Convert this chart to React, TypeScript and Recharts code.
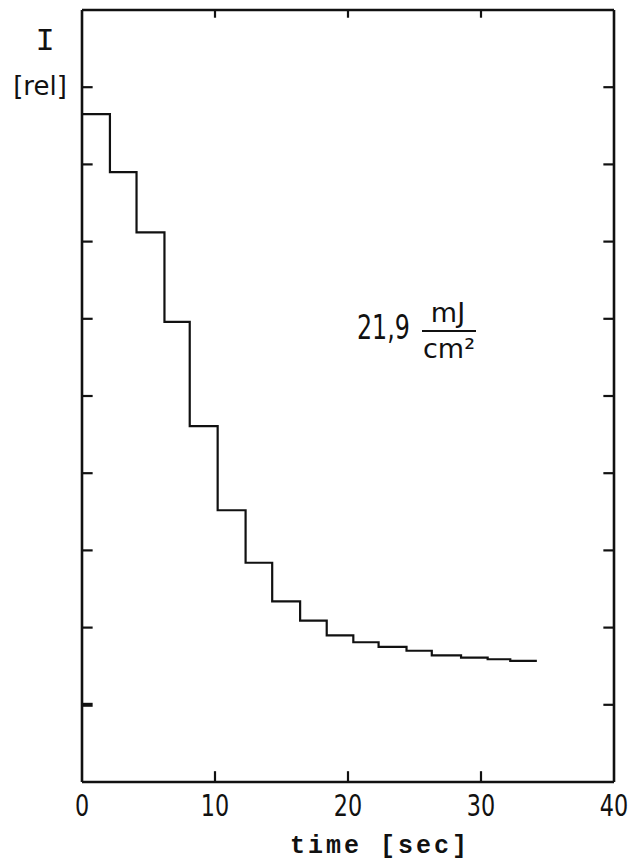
import React from "react";
import { LineChart, Line, XAxis, YAxis, ReferenceLine } from "recharts";

// step start times [sec] and relative intensity level of each step
const stepTimes = [0, 2.1, 4.1, 6.2, 8.1, 10.2, 12.3, 14.3, 16.4, 18.4, 20.4, 22.3, 24.4, 26.3, 28.5, 30.5, 32.2, 34.2];
const intensity = [8.65, 7.9, 7.12, 5.96, 4.61, 3.52, 2.84, 2.34, 2.09, 1.9, 1.81, 1.75, 1.7, 1.64, 1.61, 1.59, 1.57, 1.57];
const xTicks = [0, 10, 20, 30, 40];
const yTicks = [1, 2, 3, 4, 5, 6, 7, 8, 9];

const data = stepTimes.map((t, i) => ({ t, v: intensity[i] }));

const sans = '"DejaVu Sans", sans-serif';
const ink = "#111";
const axisStroke = { stroke: ink, strokeWidth: 2.6 };

// inward tick lengths, in axis units (x: 40 units ~ 532px, y: 10 units ~ 772px)
const xTickLen = 0.8;
const yTickLenBottom = 0.14;
const yTickLenTop = 0.1;

const BottomLabel = (props: any) => {
  const { x, y, payload } = props;
  return (
    <text
      transform={`translate(${x},${y + 34}) scale(0.72,1)`}
      textAnchor="middle"
      fontSize={31}
      fontFamily={sans}
      fill={ink}
    >
      {payload.value}
    </text>
  );
};

export default function App() {
  return (
    <div style={{ position: "absolute", left: 0, top: 0, width: 630, height: 861, background: "#fff" }}>
      <LineChart
        width={630}
        height={861}
        data={data}
        margin={{ top: 9, right: 15, bottom: 48, left: 81 }}
      >
        <XAxis
          xAxisId="bot"
          dataKey="t"
          type="number"
          domain={[0, 40]}
          ticks={xTicks}
          interval={0}
          height={31}
          axisLine={axisStroke}
          tickLine={false}
          tickSize={0}
          tickMargin={0}
          tick={<BottomLabel />}
        />
        <XAxis
          xAxisId="top"
          orientation="top"
          dataKey="t"
          type="number"
          domain={[0, 40]}
          height={1}
          axisLine={axisStroke}
          tickLine={false}
          tick={false}
        />
        <YAxis
          yAxisId="left"
          type="number"
          domain={[0, 10]}
          width={1}
          axisLine={axisStroke}
          tickLine={false}
          tick={false}
        />
        <YAxis
          yAxisId="right"
          orientation="right"
          type="number"
          domain={[0, 10]}
          width={1}
          axisLine={axisStroke}
          tickLine={false}
          tick={false}
        />
        {xTicks.slice(1, -1).map((t) => (
          <ReferenceLine
            key={`b${t}`}
            xAxisId="bot"
            yAxisId="left"
            segment={[{ x: t, y: 0 }, { x: t, y: yTickLenBottom }]}
            stroke={ink}
            strokeWidth={2.2}
          />
        ))}
        {xTicks.slice(1, -1).map((t) => (
          <ReferenceLine
            key={`t${t}`}
            xAxisId="bot"
            yAxisId="left"
            segment={[{ x: t, y: 10 }, { x: t, y: 10 - yTickLenTop }]}
            stroke={ink}
            strokeWidth={2.2}
          />
        ))}
        {yTicks.map((v) => (
          <ReferenceLine
            key={`l${v}`}
            xAxisId="bot"
            yAxisId="left"
            segment={[{ x: 0, y: v }, { x: xTickLen, y: v }]}
            stroke={ink}
            strokeWidth={v === 1 ? 4 : 2.2}
          />
        ))}
        {yTicks.map((v) => (
          <ReferenceLine
            key={`r${v}`}
            xAxisId="bot"
            yAxisId="left"
            segment={[{ x: 40, y: v }, { x: 40 - xTickLen, y: v }]}
            stroke={ink}
            strokeWidth={2.2}
          />
        ))}
        <Line
          xAxisId="bot"
          yAxisId="left"
          dataKey="v"
          type="stepAfter"
          stroke={ink}
          strokeWidth={2.2}
          dot={false}
          isAnimationActive={false}
        />
      </LineChart>
      <svg width={630} height={861} style={{ position: "absolute", left: 0, top: 0, pointerEvents: "none" }}>
        <text x={45} y={50} textAnchor="middle" fontSize={32} fontFamily='"Liberation Mono", monospace' fill={ink}>
          I
        </text>
        <text x={40} y={95} textAnchor="middle" fontSize={26} fontFamily={sans} fill={ink}>
          [rel]
        </text>
        <text transform="translate(357,339) scale(0.72,1)" fontSize={33} fontFamily={sans} fill={ink}>
          21,9
        </text>
        <text x={448} y={322} textAnchor="middle" fontSize={27} fontFamily={sans} fill={ink}>
          mJ
        </text>
        <line x1={422} y1={331} x2={476} y2={331} stroke={ink} strokeWidth={2.2} />
        <text x={449} y={358} textAnchor="middle" fontSize={27} fontFamily={sans} fill={ink}>
          cm²
        </text>
        <text
          x={380}
          y={853}
          textAnchor="middle"
          fontSize={25}
          fontWeight="bold"
          letterSpacing={3}
          fontFamily='"Liberation Mono", "DejaVu Sans Mono", monospace'
          fill={ink}
        >
          time [sec]
        </text>
      </svg>
    </div>
  );
}
